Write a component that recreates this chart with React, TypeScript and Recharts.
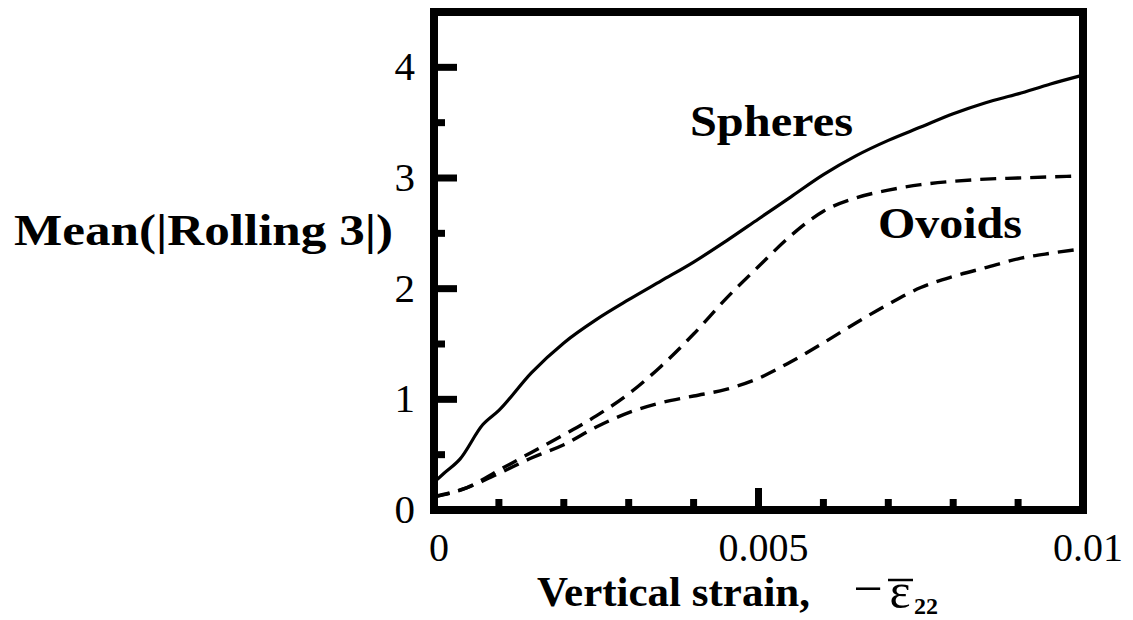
import { LineChart, Line, XAxis, YAxis, ReferenceDot } from 'recharts';

const SPHERES_STRAIN = [0, 0.00015, 0.0004, 0.00075, 0.001, 0.0015, 0.002, 0.0025, 0.003, 0.0035, 0.004, 0.0045, 0.005, 0.0055, 0.006, 0.0065, 0.007, 0.0075, 0.008, 0.0085, 0.009, 0.0095, 0.01];
const SPHERES = [0.25, 0.33, 0.46, 0.77, 0.9, 1.24, 1.51, 1.72, 1.9, 2.07, 2.24, 2.43, 2.63, 2.83, 3.03, 3.2, 3.34, 3.46, 3.58, 3.68, 3.76, 3.85, 3.93];

const OVOID_STRAIN = [0, 0.0005, 0.001, 0.0015, 0.002, 0.0025, 0.003, 0.0035, 0.004, 0.0045, 0.005, 0.0055, 0.006, 0.0065, 0.007, 0.0075, 0.008, 0.0085, 0.009, 0.0095, 0.01];
const OVOIDS_UPPER = [0.12, 0.2, 0.36, 0.52, 0.68, 0.85, 1.05, 1.3, 1.59, 1.91, 2.2, 2.48, 2.7, 2.82, 2.89, 2.94, 2.97, 2.99, 3.0, 3.01, 3.02];
const OVOIDS_LOWER = [0.12, 0.2, 0.33, 0.47, 0.59, 0.75, 0.88, 0.97, 1.03, 1.09, 1.19, 1.34, 1.51, 1.69, 1.86, 2.01, 2.11, 2.19, 2.27, 2.32, 2.36];

const X_TICKS = [0, 0.001, 0.002, 0.003, 0.004, 0.005, 0.006, 0.007, 0.008, 0.009, 0.01];
const X_MAJOR = [0, 0.005, 0.01];
const X_LABELS = ['0', '0.005', '0.01'];
const Y_TICKS = [0, 0.5, 1, 1.5, 2, 2.5, 3, 3.5, 4];
const Y_MAJOR = [0, 1, 2, 3, 4];
const Y_LABELS = ['0', '1', '2', '3', '4'];

const SERIF = '"Liberation Serif", "Times New Roman", serif';
const INK = '#000';

const spheresData = SPHERES_STRAIN.map((s, i) => ({ strain: s, value: SPHERES[i] }));
const upperData = OVOID_STRAIN.map((s, i) => ({ strain: s, value: OVOIDS_UPPER[i] }));
const lowerData = OVOID_STRAIN.map((s, i) => ({ strain: s, value: OVOIDS_LOWER[i] }));

const majorIndex = (list: number[], v: number) => list.findIndex((m) => Math.abs(m - v) < 1e-9);

const BottomTick = ({ x, y, payload }: any) => {
  const idx = majorIndex(X_MAJOR, payload.value);
  return (
    <g>
      <line x1={x} x2={x} y1={y} y2={y - (idx >= 0 ? 22 : 11)} stroke={INK} strokeWidth={7} />
      {idx >= 0 && (
        <text x={x + 5} y={y + 51} textAnchor="middle" fontFamily={SERIF} fontSize={40} fill={INK}>
          {X_LABELS[idx]}
        </text>
      )}
    </g>
  );
};

const TopTick = ({ x, y, payload }: any) => {
  const major = majorIndex(X_MAJOR, payload.value) >= 0;
  return <line x1={x} x2={x} y1={y} y2={y + (major ? 23 : 11)} stroke={INK} strokeWidth={7} />;
};

const LeftTick = ({ x, y, payload }: any) => {
  const idx = majorIndex(Y_MAJOR, payload.value);
  return (
    <g>
      <line x1={x} x2={x + (idx >= 0 ? 23 : 11)} y1={y} y2={y} stroke={INK} strokeWidth={7} />
      {idx >= 0 && (
        <text x={x - 19} y={y + 13} textAnchor="end" fontFamily={SERIF} fontSize={41} fill={INK}>
          {Y_LABELS[idx]}
        </text>
      )}
    </g>
  );
};

const RightTick = ({ x, y, payload }: any) => {
  const major = majorIndex(Y_MAJOR, payload.value) >= 0;
  return <line x1={x} x2={x - (major ? 24 : 11)} y1={y} y2={y} stroke={INK} strokeWidth={7} />;
};

const YTitle = ({ viewBox }: any) => {
  const right = viewBox.x + viewBox.width - 41;
  return (
    <text
      x={right - 379}
      y={viewBox.y + 233}
      fontFamily={SERIF}
      fontWeight="bold"
      fontSize={44}
      fill={INK}
      textLength={379}
      lengthAdjust="spacingAndGlyphs"
    >
      Mean(|Rolling 3|)
    </text>
  );
};

const XTitle = ({ viewBox }: any) => {
  const left = viewBox.x + 103;
  const base = viewBox.y + 96;
  return (
    <g fill={INK} fontFamily={SERIF}>
      <text x={left} y={base} fontWeight="bold" fontSize={42} textLength={273} lengthAdjust="spacingAndGlyphs">
        Vertical strain,
      </text>
      <text x={left + 331} y={base} textAnchor="middle" fontSize={52}>
        −
      </text>
      <text x={left + 363} y={base + 2} textAnchor="middle" fontSize={50}>
        ε
      </text>
      <line x1={left + 351} x2={left + 376} y1={base - 26} y2={base - 26} stroke={INK} strokeWidth={2.5} />
      <text x={left + 377} y={base + 8} fontWeight="bold" fontSize={24}>
        22
      </text>
    </g>
  );
};

const PlotText = (text: string, width: number) => ({ viewBox }: any) => (
  <text
    x={viewBox.x + viewBox.width / 2}
    y={viewBox.y + viewBox.height / 2}
    textAnchor="middle"
    fontFamily={SERIF}
    fontWeight="bold"
    fontSize={44}
    fill={INK}
    textLength={width}
    lengthAdjust="spacingAndGlyphs"
  >
    {text}
  </text>
);

const axisLine = { stroke: INK, strokeWidth: 8, strokeLinecap: 'square' as const };

export default function App() {
  return (
    <div style={{ position: 'absolute', left: 0, top: 0, background: '#fff' }}>
      <LineChart width={1133} height={620} margin={{ top: 11, right: 49, bottom: 0, left: 0 }}>
        <XAxis
          xAxisId="bottom"
          dataKey="strain"
          type="number"
          domain={[0, 0.01]}
          ticks={X_TICKS}
          height={110}
          axisLine={axisLine}
          tickLine={false}
          tickSize={0}
          tickMargin={0}
          interval={0}
          tick={<BottomTick />}
          label={{ content: <XTitle /> }}
        />
        <XAxis
          xAxisId="top"
          orientation="top"
          dataKey="strain"
          type="number"
          domain={[0, 0.01]}
          ticks={X_TICKS}
          height={1}
          axisLine={axisLine}
          tickLine={false}
          tickSize={0}
          tickMargin={0}
          interval={0}
          tick={<TopTick />}
        />
        <YAxis
          yAxisId="left"
          type="number"
          domain={[0, 4.5]}
          ticks={Y_TICKS}
          width={434}
          axisLine={axisLine}
          tickLine={false}
          tickSize={0}
          tickMargin={0}
          interval={0}
          tick={<LeftTick />}
          label={{ content: <YTitle /> }}
        />
        <YAxis
          yAxisId="right"
          orientation="right"
          type="number"
          domain={[0, 4.5]}
          ticks={Y_TICKS}
          width={1}
          axisLine={axisLine}
          tickLine={false}
          tickSize={0}
          tickMargin={0}
          interval={0}
          tick={<RightTick />}
        />
        <Line
          xAxisId="bottom"
          yAxisId="left"
          data={spheresData}
          dataKey="value"
          type="monotone"
          stroke={INK}
          strokeWidth={3.2}
          dot={false}
          isAnimationActive={false}
        />
        <Line
          xAxisId="bottom"
          yAxisId="left"
          data={upperData}
          dataKey="value"
          type="monotone"
          stroke={INK}
          strokeWidth={3.4}
          strokeDasharray="16 9"
          dot={false}
          isAnimationActive={false}
        />
        <Line
          xAxisId="bottom"
          yAxisId="left"
          data={lowerData}
          dataKey="value"
          type="monotone"
          stroke={INK}
          strokeWidth={3.4}
          strokeDasharray="16 9"
          dot={false}
          isAnimationActive={false}
        />
        <ReferenceDot
          xAxisId="bottom"
          yAxisId="left"
          x={0.0052}
          y={3.38}
          r={1}
          fill="none"
          stroke="none"
          label={{ content: PlotText('Spheres', 163) }}
        />
        <ReferenceDot
          xAxisId="bottom"
          yAxisId="left"
          x={0.00795}
          y={2.46}
          r={1}
          fill="none"
          stroke="none"
          label={{ content: PlotText('Ovoids', 144) }}
        />
      </LineChart>
    </div>
  );
}
